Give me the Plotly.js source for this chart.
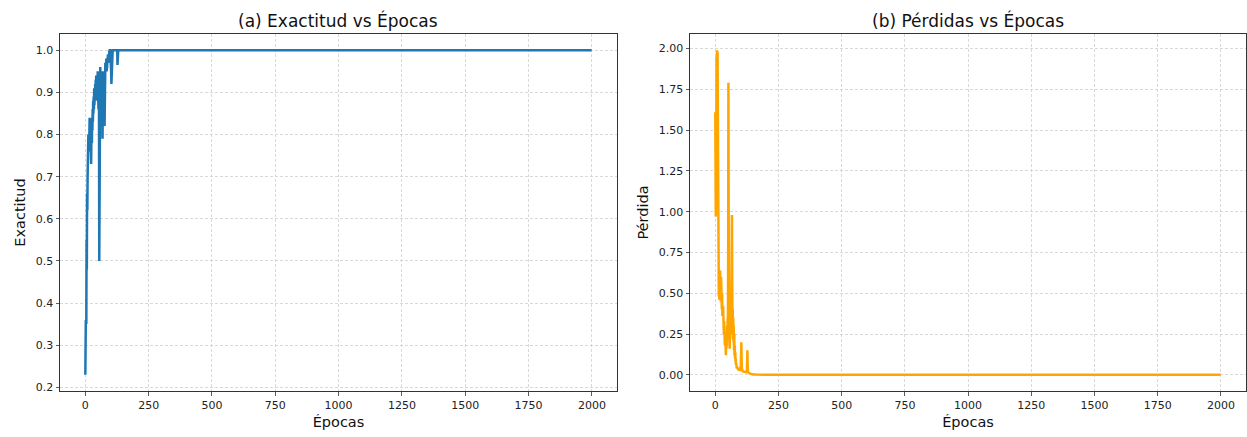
<!DOCTYPE html>
<html>
<head>
<meta charset="utf-8">
<script src="https://cdn.plot.ly/plotly-3.0.1.min.js"></script>
<style>html,body{margin:0;padding:0;background:#fff;}#chart{width:1247px;height:437px;}</style>
</head>
<body>
<div id="chart"></div>
<script>
// Accuracy per epoch (sparse after convergence)
const accEpochs = [0,1,2,3,4,5,6,7,8,9,10,11,12,13,14,15,16,17,18,19,20,21,22,23,24,25,26,27,28,29,30,31,32,33,34,35,36,37,38,39,40,41,42,43,44,45,46,47,48,49,50,51,52,53,54,55,56,57,58,59,60,61,62,63,64,65,66,67,68,69,70,71,72,73,74,75,76,77,78,79,80,81,82,83,84,85,86,87,88,89,90,91,92,93,94,95,96,97,98,99,100,101,102,103,104,105,106,107,108,110,115,120,125,126,127,128,129,130,1999];
const accValues = [0.23,0.26,0.36,0.33,0.35,0.55,0.48,0.66,0.62,0.70,0.78,0.75,0.80,0.77,0.82,0.76,0.80,0.84,0.78,0.83,0.80,0.84,0.76,0.73,0.79,0.83,0.78,0.84,0.81,0.86,0.83,0.88,0.85,0.89,0.86,0.91,0.87,0.90,0.88,0.92,0.89,0.93,0.90,0.94,0.91,0.93,0.88,0.94,0.92,0.95,0.90,0.94,0.86,0.93,0.88,0.50,0.92,0.95,0.89,0.96,0.91,0.94,0.88,0.95,0.90,0.93,0.85,0.90,0.79,0.88,0.95,0.86,0.93,0.89,0.95,0.84,0.82,0.90,0.94,0.97,0.95,0.97,0.96,0.98,0.95,0.97,0.96,0.98,0.97,0.99,0.97,0.98,0.99,0.98,0.99,1.00,0.99,1.00,1.00,0.99,1.00,0.98,0.95,0.92,0.96,0.99,1.00,0.99,1.00,1.00,1.00,1.00,1.00,1.00,0.965,0.98,1.00,1.00,1.00];

// Loss per epoch (sparse after convergence)
const lossEpochs = [0,1,2,3,4,5,6,7,8,9,10,11,12,13,14,15,16,17,18,19,20,21,22,23,24,25,26,27,28,29,30,31,32,33,34,35,36,37,38,39,40,41,42,43,44,45,46,47,48,49,50,51,52,53,54,55,56,57,58,59,60,61,62,63,64,65,66,67,68,69,70,71,72,73,74,75,76,77,78,79,80,81,82,83,84,85,86,88,90,92,94,96,98,100,101,102,103,104,105,106,108,110,114,118,122,125,126,127,128,129,131,134,138,142,146,150,160,200,1999];
const lossValues = [1.61,1.45,0.97,1.55,1.20,1.95,1.60,1.99,1.85,1.98,1.50,1.05,0.75,0.62,0.48,0.55,0.46,0.60,0.50,0.64,0.52,0.58,0.45,0.60,0.48,0.55,0.40,0.50,0.36,0.45,0.38,0.42,0.30,0.38,0.25,0.33,0.22,0.30,0.18,0.26,0.15,0.22,0.12,0.20,0.16,0.25,0.18,0.30,0.22,0.35,0.30,0.80,1.79,1.00,0.55,0.35,0.25,0.16,0.22,0.30,0.45,0.30,0.38,0.25,0.50,0.35,0.98,0.55,0.30,0.40,0.22,0.35,0.20,0.30,0.15,0.25,0.12,0.18,0.10,0.14,0.08,0.10,0.06,0.07,0.05,0.04,0.05,0.04,0.035,0.04,0.03,0.035,0.03,0.03,0.05,0.12,0.20,0.10,0.04,0.03,0.025,0.02,0.02,0.018,0.015,0.02,0.08,0.15,0.06,0.02,0.015,0.01,0.007,0.005,0.003,0.002,0.001,0.0005,0.0001];

const xTicks = [0,250,500,750,1000,1250,1500,1750,2000];
const accTicks = [0.2,0.3,0.4,0.5,0.6,0.7,0.8,0.9,1.0];
const lossTicks = [0,0.25,0.5,0.75,1.0,1.25,1.5,1.75,2.0];

const FONT = 'DejaVu Sans, Liberation Sans, sans-serif';
const gridCol = '#cfcfcf';
const spineCol = '#333333';

function xAxis(domain, anchor) {
  return {
    domain: domain, anchor: anchor, range: [-99.95, 2098.95],
    tickmode: 'array', tickvals: xTicks, ticks: 'outside', ticklen: 3.5, tickwidth: 0.8, tickcolor: spineCol,
    showline: true, mirror: true, linecolor: spineCol, linewidth: 1,
    showgrid: true, gridcolor: gridCol, griddash: '3px,2px', gridwidth: 0.8, zeroline: false,
    tickfont: {family: FONT, size: 11, color: '#222'},
    title: {text: 'Épocas', font: {family: FONT, size: 14.5, color: '#111'}, standoff: 6},
    automargin: false
  };
}
function yAxis(anchor, range, ticks, fmt, title) {
  return {
    anchor: anchor, domain: [0, 1], range: range,
    tickmode: 'array', tickvals: ticks, tickformat: fmt, ticks: 'outside', ticklen: 3.5, tickwidth: 0.8, tickcolor: spineCol,
    showline: true, mirror: true, linecolor: spineCol, linewidth: 1,
    showgrid: true, gridcolor: gridCol, griddash: '3px,2px', gridwidth: 0.8, zeroline: false,
    tickfont: {family: FONT, size: 11, color: '#222'},
    title: {text: title, font: {family: FONT, size: 14.5, color: '#111'}, standoff: 6},
    automargin: false
  };
}

const traces = [
  {x: accEpochs, y: accValues, type: 'scatter', mode: 'lines', line: {color: '#1f77b4', width: 2.5}, xaxis: 'x', yaxis: 'y', hoverinfo: 'skip'},
  {x: lossEpochs, y: lossValues, type: 'scatter', mode: 'lines', line: {color: '#FFA500', width: 2.5}, xaxis: 'x2', yaxis: 'y2', hoverinfo: 'skip'}
];

const layout = {
  width: 1247, height: 437,
  margin: {l: 60, r: 1, t: 34, b: 46},
  paper_bgcolor: '#fff', plot_bgcolor: '#fff',
  showlegend: false,
  font: {family: FONT, color: '#000'},
  xaxis: xAxis([0, 0.4696], 'y'),
  yaxis: yAxis('x', [0.1915, 1.0385], accTicks, '.1f', 'Exactitud'),
  xaxis2: xAxis([0.5312, 1], 'y2'),
  yaxis2: yAxis('x2', [-0.0995, 2.0895], lossTicks, '.2f', 'Pérdida'),
  annotations: [
    {text: '(a) Exactitud vs Épocas', xref: 'paper', yref: 'paper', x: 0.2348, y: 1.039, xanchor: 'center', yanchor: 'middle', showarrow: false, font: {family: FONT, size: 17, color: '#111'}},
    {text: '(b) Pérdidas vs Épocas', xref: 'paper', yref: 'paper', x: 0.7656, y: 1.039, xanchor: 'center', yanchor: 'middle', showarrow: false, font: {family: FONT, size: 17, color: '#111'}}
  ]
};

Plotly.newPlot('chart', traces, layout, {displayModeBar: false, staticPlot: true});
</script>
</body>
</html>
